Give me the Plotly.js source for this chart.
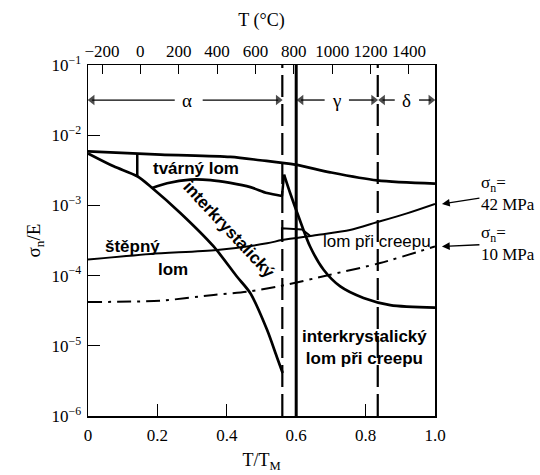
<!DOCTYPE html>
<html>
<head>
<meta charset="utf-8">
<script src="https://cdn.plot.ly/plotly-3.0.1.min.js"></script>
<style>html,body{margin:0;padding:0;background:#fff;}#chart{width:540px;height:475px;}</style>
</head>
<body>
<div id="chart"></div>
<script>
// ---- data ----
const meltingPointK = 1809; // iron, 1536 °C
const celsiusTicks = [-200, 0, 200, 400, 600, 800, 1000, 1200, 1400];
const homologousTicks = [0, 0.2, 0.4, 0.6, 0.8, 1.0];
const homologousTickText = ["0", "0.2", "0.4", "0.6", "0.8", "1.0"];
const stressTicks = [1e-6, 1e-5, 1e-4, 1e-3, 1e-2, 1e-1];
const stressTickText = ["10<sup>−6</sup>", "10<sup>−5</sup>", "10<sup>−4</sup>", "10<sup>−3</sup>", "10<sup>−2</sup>", "10<sup>−1</sup>"];

// upper boundary of ductile fracture
const ductileTopX = [0, 0.209, 0.41, 0.496, 0.597, 0.698, 0.833, 1.0];
const ductileTopY = [5.9e-3, 5.3e-3, 4.9e-3, 4.4e-3, 3.8e-3, 2.96e-3, 2.27e-3, 2.04e-3];
// cleavage / ductile boundary falling to the alpha limit
const cleavageTopX = [0, 0.074, 0.142, 0.185, 0.266, 0.362, 0.429, 0.468, 0.516, 0.544, 0.561];
const cleavageTopY = [5.5e-3, 3.6e-3, 2.6e-3, 1.77e-3, 7.8e-4, 2.6e-4, 9.7e-5, 5.6e-5, 1.69e-5, 7.0e-6, 4.1e-6];
// short boundary between cleavage and ductile
const dividerX = [0.142, 0.142];
const dividerY = [5.5e-3, 2.6e-3];
// intergranular fracture (alpha) arch
const interArchX = [0.185, 0.228, 0.295, 0.353, 0.41, 0.468, 0.516, 0.559];
const interArchY = [1.77e-3, 2.07e-3, 2.33e-3, 2.29e-3, 2.09e-3, 1.82e-3, 1.5e-3, 1.36e-3];
const jumpX = [0.559, 0.565];
const jumpY = [1.36e-3, 2.75e-3];
// intergranular creep boundary (gamma / delta)
const creepInterX = [0.565, 0.583, 0.607, 0.64, 0.679, 0.727, 0.794, 0.871, 1.0];
const creepInterY = [2.75e-3, 1.48e-3, 6.9e-4, 2.6e-4, 1.21e-4, 7.0e-5, 4.8e-5, 3.8e-5, 3.5e-5];
// sigma_n = 42 MPa
const stress42X = [0, 0.18, 0.372, 0.516, 0.559, 0.66, 0.755, 0.832, 0.919, 1.0];
const stress42Y = [1.69e-4, 2.03e-4, 2.32e-4, 2.88e-4, 3.21e-4, 3.79e-4, 4.46e-4, 5.74e-4, 7.7e-4, 1.05e-3];
const stepX = [0.559, 0.559, 0.617, 0.64];
const stepY = [3.21e-4, 4.72e-4, 4.55e-4, 3.7e-4];
// sigma_n = 10 MPa
const stress10X = [0, 0.209, 0.362, 0.458, 0.554, 0.698, 0.842, 1.0];
const stress10Y = [4.2e-5, 4.4e-5, 5.3e-5, 5.9e-5, 7.1e-5, 1.03e-4, 1.51e-4, 2.6e-4];
// phase boundaries and phase field labels
const alphaLimit = 0.56;
const transition = 0.6;
const gammaLimit = 0.835;
const yFull = [1e-6, 1e-1];
const phaseNames = ['α', 'γ', 'δ'];
const phaseLabelX = [0.285, 0.717, 0.919];
const phaseBandY = 0.0317;

// ---- traces ----
const blk = '#000';
const yRangeLog = [-6, -1];
function curve(x, y, w, extra) {
  return {x: x, y: y, type: 'scatter', mode: 'lines', hoverinfo: 'skip', showlegend: false,
    line: Object.assign({color: blk, width: w, shape: 'spline', smoothing: 0.8}, extra || {})};
}
function phaseArrow(tail, head) {
  return {x: [tail, head], y: [phaseBandY, phaseBandY], type: 'scatter', mode: 'lines+markers',
    hoverinfo: 'skip', showlegend: false, cliponaxis: false,
    line: {color: blk, width: 1.3},
    marker: {color: blk, size: [0, 9], symbol: head < tail ? 'triangle-left' : 'triangle-right', line: {width: 0}}};
}
const gap = 0.035;
const traces = [
  curve([alphaLimit, alphaLimit], yFull, 2.2, {dash: '22px,7px', shape: 'linear'}),
  curve([transition, transition], yFull, 3, {shape: 'linear'}),
  curve([gammaLimit, gammaLimit], yFull, 2.2, {dash: '22px,7px', shape: 'linear'}),
  curve(ductileTopX, ductileTopY, 2.7),
  curve(cleavageTopX, cleavageTopY, 2.7),
  curve(dividerX, dividerY, 2.5, {shape: 'linear'}),
  curve(interArchX, interArchY, 2.7),
  curve(jumpX, jumpY, 2.5, {shape: 'linear'}),
  curve(creepInterX, creepInterY, 2.7),
  curve(stress42X, stress42Y, 2),
  curve(stepX, stepY, 2, {shape: 'linear'}),
  curve(stress10X, stress10Y, 2, {dash: '14px,6px,3px,6px'}),
  phaseArrow(phaseLabelX[0] - gap, 0.012), phaseArrow(phaseLabelX[0] + 1.3 * gap, alphaLimit - 0.012),
  phaseArrow(phaseLabelX[1] - gap, transition + 0.014), phaseArrow(phaseLabelX[1] + gap, gammaLimit - 0.012),
  phaseArrow(phaseLabelX[2] - gap, gammaLimit + 0.014), phaseArrow(phaseLabelX[2] + gap, 0.988),
  {x: [0, 1], y: [null, null], xaxis: 'x2', yaxis: 'y', type: 'scatter', mode: 'lines', hoverinfo: 'skip', showlegend: false}
];

const serif = 'Liberation Serif, Times New Roman, serif';
const sans = 'Liberation Sans, Arial, sans-serif';

function label(text, x, y, size, bold, extra) {
  return Object.assign({text: bold ? '<b>' + text + '</b>' : text, x: x, y: y, xref: 'paper', yref: 'paper',
    xanchor: 'center', yanchor: 'middle',
    showarrow: false, font: {family: sans, size: size, color: blk}}, extra || {});
}
// note beside the right frame, with an arrow pointing at the end of its curve
function stressNote(text, curveX, curveY, dx, dy) {
  const endX = curveX[curveX.length - 1];
  const endY = (Math.log10(curveY[curveY.length - 1]) - yRangeLog[0]) / (yRangeLog[1] - yRangeLog[0]);
  return {text: text, align: 'left', x: endX + 0.02, y: endY, xref: 'paper', yref: 'paper',
    ax: dx, ay: dy, showarrow: true, arrowhead: 2, arrowsize: 1.2, arrowwidth: 1.3,
    arrowcolor: blk, font: {family: serif, size: 17, color: blk}};
}

const annotations = phaseNames.map((n, i) => ({text: n, x: phaseLabelX[i], y: Math.log10(phaseBandY),
  xref: 'x', yref: 'y', showarrow: false, font: {family: serif, size: 19, color: blk}})).concat([
  label('tvárný lom', 0.311, 0.704, 17, true),
  label('interkrystalický', 0.405, 0.53, 17, true, {textangle: 47}),
  label('štěpný', 0.127, 0.484, 17, true),
  label('lom', 0.245, 0.416, 17, true),
  label('lom při creepu', 0.833, 0.496, 17, false),
  label('interkrystalický<br>lom při creepu', 0.797, 0.196, 17, true),
  stressNote('σ<sub>n</sub>=<br>42 MPa', stress42X, stress42Y, 66, -10),
  stressNote('σ<sub>n</sub>=<br>10 MPa', stress10X, stress10Y, 66, -3)
]);

const layout = {
  width: 540, height: 475,
  margin: {l: 88, r: 105, t: 65, b: 59},
  paper_bgcolor: '#fff', plot_bgcolor: '#fff',
  showlegend: false,
  font: {family: serif, size: 17, color: blk},
  xaxis: {
    range: [0, 1], tickvals: homologousTicks, ticktext: homologousTickText,
    ticks: 'inside', ticklen: 12, tickwidth: 1, tickcolor: blk,
    showline: true, linewidth: 1.5, linecolor: blk, mirror: true,
    showgrid: false, zeroline: false, fixedrange: true,
    ticklabelstandoff: 3,
    tickfont: {family: serif, size: 17},
    title: {text: 'T/T<sub>M</sub>', font: {family: serif, size: 18}, standoff: 9}
  },
  xaxis2: {
    overlaying: 'x', side: 'top', anchor: 'y', range: [0, 1],
    tickvals: celsiusTicks.map(c => (c + 273) / meltingPointK),
    ticktext: celsiusTicks.map(c => c < 0 ? '−' + Math.abs(c) : String(c)),
    ticks: 'inside', ticklen: 9, tickwidth: 1, tickcolor: blk,
    showline: false, showgrid: false, zeroline: false, fixedrange: true,
    ticklabelstandoff: 4,
    tickfont: {family: serif, size: 17},
    title: {text: 'T (°C)', font: {family: serif, size: 18}, standoff: 10}
  },
  yaxis: {
    type: 'log', range: yRangeLog, tickvals: stressTicks, ticktext: stressTickText,
    ticks: 'inside', ticklen: 12, tickwidth: 1, tickcolor: blk,
    showline: true, linewidth: 1.5, linecolor: blk, mirror: true,
    showgrid: false, zeroline: false, fixedrange: true,
    ticklabelstandoff: 2,
    tickfont: {family: serif, size: 17},
    title: {text: 'σ<sub>n</sub>/E', font: {family: serif, size: 19}, standoff: 6}
  },
  annotations: annotations
};

Plotly.newPlot('chart', traces, layout, {displayModeBar: false, staticPlot: true});
</script>
</body>
</html>
